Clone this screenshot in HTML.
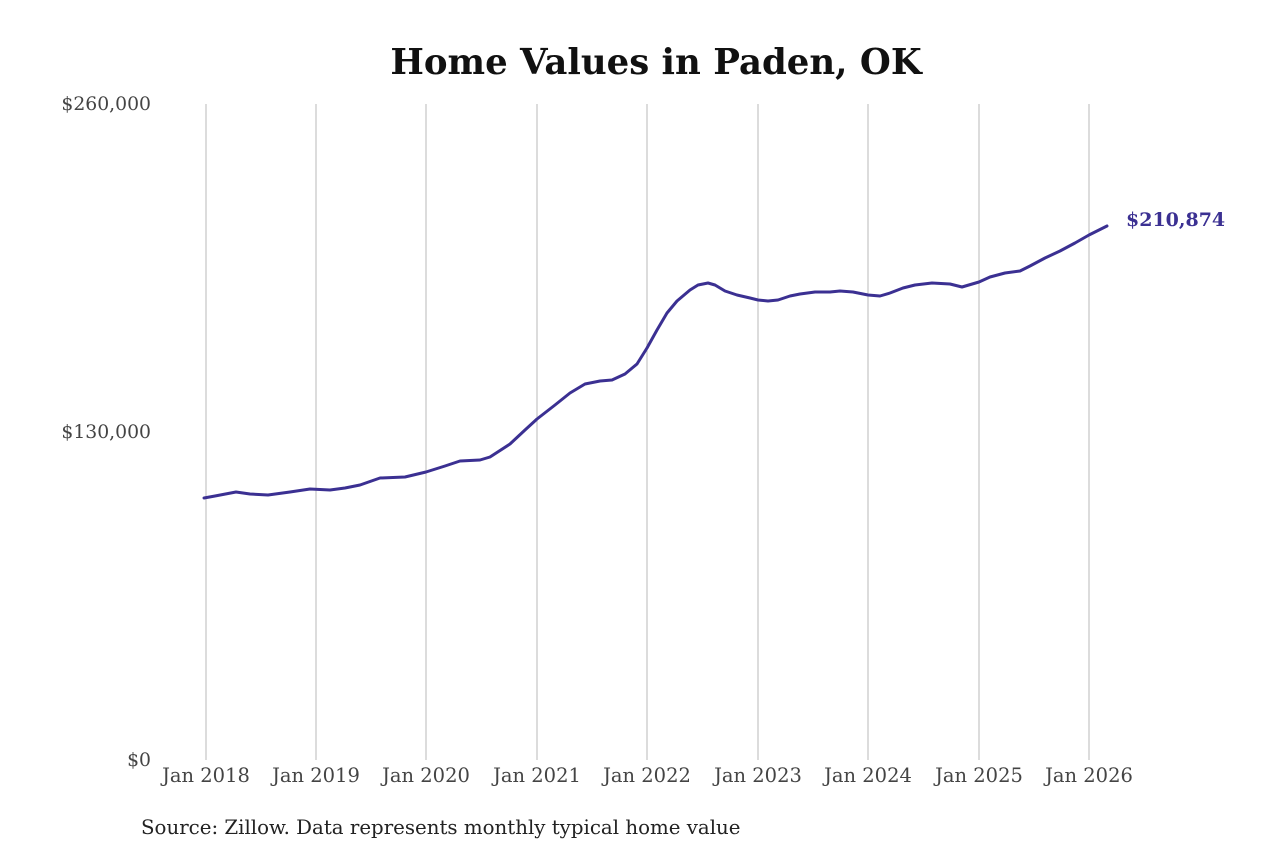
<!DOCTYPE html>
<html><head><meta charset="utf-8"><style>
html,body{margin:0;padding:0;background:#fff;}
</style></head><body>
<svg width="1280" height="853" xmlns="http://www.w3.org/2000/svg" font-family="'DejaVu Serif','Liberation Serif',serif">
<rect width="1280" height="853" fill="#fff"/>
<text x="656" y="74" text-anchor="middle" font-size="35.5" font-weight="bold" fill="#111">Home Values in Paden, OK</text>
<g stroke="#b8b8b8" stroke-width="1">
<line x1="206" y1="104" x2="206" y2="760"/><line x1="316" y1="104" x2="316" y2="760"/>
<line x1="426" y1="104" x2="426" y2="760"/><line x1="537" y1="104" x2="537" y2="760"/>
<line x1="647" y1="104" x2="647" y2="760"/><line x1="758" y1="104" x2="758" y2="760"/>
<line x1="868" y1="104" x2="868" y2="760"/><line x1="979" y1="104" x2="979" y2="760"/>
<line x1="1089" y1="104" x2="1089" y2="760"/>
</g>
<g font-size="18.8" fill="#444" text-anchor="end">
<text x="151" y="110">$260,000</text><text x="151" y="438">$130,000</text><text x="151" y="766">$0</text>
</g>
<g font-size="19.5" fill="#444" text-anchor="middle">
<text x="206" y="782">Jan 2018</text><text x="316" y="782">Jan 2019</text><text x="426" y="782">Jan 2020</text>
<text x="537" y="782">Jan 2021</text><text x="647" y="782">Jan 2022</text><text x="758" y="782">Jan 2023</text>
<text x="868" y="782">Jan 2024</text><text x="979" y="782">Jan 2025</text><text x="1089" y="782">Jan 2026</text>
</g>
<polyline fill="none" stroke="#3b3092" stroke-width="3" stroke-linejoin="round" stroke-linecap="round" points="204,498 215,496 236,492 250,494 268,495 290,492 310,489 330,490 345,488 360,485 380,478 405,477 426,472 445,466 460,461 480,460 490,457 510,444 525,430 537,419 555,405 570,393 585,384 600,381 612,380 625,374 637,364 647,348 657,330 667,313 677,301 690,290 698,285 708,283 715,285 725,291 737,295 750,298 758,300 768,301 778,300 790,296 800,294 815,292 830,292 840,291 853,292 868,295 880,296 890,293 903,288 915,285 932,283 950,284 962,287 979,282 990,277 1005,273 1020,271 1030,266 1045,258 1060,251 1075,243 1089,235 1107,226"/>
<text x="1126" y="226" font-size="19" font-weight="bold" fill="#3b3092">$210,874</text>
<text x="141" y="834" font-size="19.8" fill="#222">Source: Zillow. Data represents monthly typical home value</text>
</svg>
</body></html>
